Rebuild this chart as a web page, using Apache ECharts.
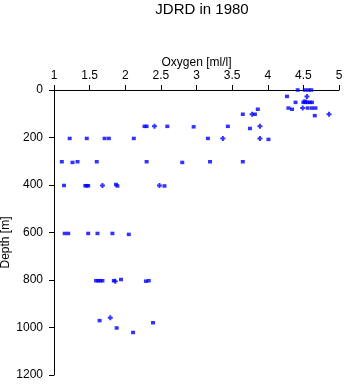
<!DOCTYPE html>
<html>
<head>
<meta charset="utf-8">
<script src="https://cdn.jsdelivr.net/npm/echarts@6/dist/echarts.min.js"></script>
<style>
  html, body { margin: 0; padding: 0; background: #fff; }
  #chart { width: 345px; height: 384px; }
</style>
</head>
<body>
<div id="chart"></div>
<script>
// Oxygen profile samples: [oxygen ml/l, depth m]
const samplePoints = [
  [4.42, 0], [4.52, 0], [4.57, 0], [4.61, 0],
  [4.27, 27],
  [4.39, 52], [4.52, 47], [4.50, 52], [4.53, 52], [4.56, 52], [4.59, 52], [4.62, 52],
  [3.86, 81], [4.29, 76], [4.34, 81], [4.56, 76], [4.62, 76], [4.67, 76],
  [3.65, 102], [3.82, 102], [4.66, 108],
  [2.27, 153], [2.30, 153], [2.59, 153], [2.96, 155], [3.44, 153], [3.75, 162],
  [1.22, 204], [1.46, 204], [1.71, 204], [1.77, 204], [2.12, 204], [3.16, 204], [4.01, 208],
  [1.11, 302], [1.26, 305], [1.33, 302], [1.60, 302], [2.30, 302], [2.80, 305], [3.19, 302], [3.65, 302],
  [1.14, 402], [1.44, 403], [1.46, 403], [1.48, 403], [1.87, 398], [1.89, 404], [2.55, 404],
  [1.15, 604], [1.20, 604], [1.48, 604], [1.61, 604], [1.82, 604], [2.05, 608],
  [1.59, 803], [1.62, 803], [1.65, 803], [1.68, 803], [1.84, 803], [1.94, 798], [2.29, 805], [2.33, 803],
  [1.64, 971], [1.88, 1002], [2.11, 1021], [2.39, 980]
];

// Samples where two casts overlap, drawn with a plus marker
const overlapPoints = [
  [4.55, 27], [4.49, 76], [3.78, 102], [4.86, 102],
  [2.41, 153], [3.89, 153], [3.37, 204], [3.89, 204],
  [1.68, 402], [2.48, 402], [1.86, 805], [1.79, 959]
];

const oxygenTicks = [1, 1.5, 2, 2.5, 3, 3.5, 4, 4.5, 5];
const depthTicks = [0, 200, 400, 600, 800, 1000, 1200];

const font = 'Liberation Sans, Arial, sans-serif';
const chart = echarts.init(document.getElementById('chart'), null, { renderer: 'canvas' });

chart.setOption({
  animation: false,
  backgroundColor: '#ffffff',
  title: {
    text: 'JDRD in 1980',
    left: 197, top: -3,
    textAlign: 'center',
    textStyle: { fontFamily: font, fontSize: 15, fontWeight: 'normal', color: '#000' }
  },
  grid: { left: 54, right: 6, top: 90, bottom: 9, outerBoundsMode: 'none' },
  xAxis: {
    type: 'value',
    position: 'top',
    min: oxygenTicks[0],
    max: oxygenTicks[oxygenTicks.length - 1],
    interval: 0.5,
    name: 'Oxygen [ml/l]',
    nameLocation: 'middle',
    nameGap: 21,
    nameMoveOverlap: false,
    nameTextStyle: { fontFamily: font, fontSize: 12, color: '#000' },
    axisLine: { show: true, lineStyle: { color: '#000', width: 1 } },
    axisTick: { show: true, inside: false, length: 5, lineStyle: { color: '#000' } },
    axisLabel: { fontFamily: font, fontSize: 12, color: '#000', margin: 8 },
    splitLine: { show: false }
  },
  yAxis: {
    type: 'value',
    inverse: true,
    min: depthTicks[0],
    max: depthTicks[depthTicks.length - 1],
    interval: 200,
    name: 'Depth [m]',
    nameLocation: 'middle',
    nameGap: 42,
    nameMoveOverlap: false,
    nameTextStyle: { fontFamily: font, fontSize: 12, color: '#000', padding: [0, 20, 0, 0] },
    axisLine: { show: true, lineStyle: { color: '#000', width: 1 } },
    axisTick: { show: true, inside: false, length: 5, lineStyle: { color: '#000' } },
    axisLabel: {
      fontFamily: font, fontSize: 12, color: '#000', margin: 11,
      formatter: (v) => String(v)
    },
    splitLine: { show: false }
  },
  series: [
    {
      type: 'scatter',
      data: samplePoints,
      symbol: 'rect',
      symbolSize: [4, 3.5],
      itemStyle: { color: '#0000ff' },
      silent: true
    },
    {
      type: 'scatter',
      data: overlapPoints,
      symbol: 'path://M1.5,0H3.5V1.5H5V3.5H3.5V5H1.5V3.5H0V1.5H1.5Z',
      symbolSize: 5,
      itemStyle: { color: '#0000ff' },
      silent: true
    }
  ]
});
</script>
</body>
</html>
